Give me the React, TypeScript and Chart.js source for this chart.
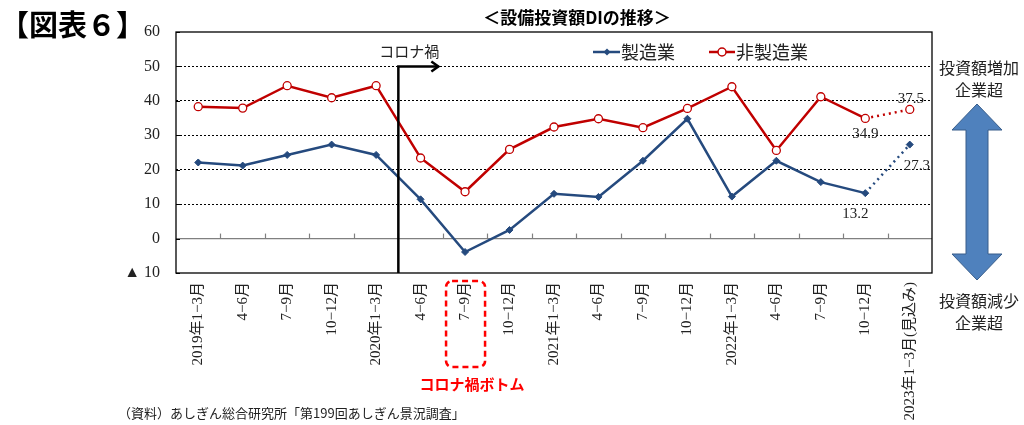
import React, { useEffect, useRef } from "react";
import { Chart, registerables } from "chart.js";

Chart.register(...registerables);

const categories = [
  "2019年1−3月", "4−6月", "7−9月", "10−12月",
  "2020年1−3月", "4−6月", "7−9月", "10−12月",
  "2021年1−3月", "4−6月", "7−9月", "10−12月",
  "2022年1−3月", "4−6月", "7−9月", "10−12月",
  "2023年1−3月(見込み)",
];
const manufacturing = [22.1, 21.2, 24.3, 27.3, 24.3, 11.4, -3.9, 2.5, 13.0, 12.1, 22.6, 34.8, 12.2, 22.6, 16.4, 13.2, 27.3];
const nonManufacturing = [38.3, 37.9, 44.4, 40.9, 44.4, 23.4, 13.6, 25.9, 32.4, 34.8, 32.2, 37.8, 44.1, 25.6, 41.2, 34.9, 37.5];
const yTicks = [-10, 0, 10, 20, 30, 40, 50, 60];
const labeledIndex = 15;
const forecastIndex = 16;

const BLUE = "#254A7E";
const RED = "#C00000";
const SERIF = "'Liberation Serif', 'Noto Sans CJK JP', serif";
const SANS = "'Noto Sans CJK JP', sans-serif";

const overlayPlugin = {
  id: "overlay",
  beforeDatasetsDraw(chart: any) {
    const { ctx, chartArea } = chart;
    const x = chart.scales.x;
    const y = chart.scales.y;
    ctx.save();
    const y0 = y.getPixelForValue(0);
    ctx.strokeStyle = "#808080";
    ctx.lineWidth = 1.2;
    ctx.beginPath();
    ctx.moveTo(chartArea.left, y0);
    ctx.lineTo(chartArea.right, y0);
    ctx.stroke();
    for (let i = 1; i < categories.length; i++) {
      const px = Math.round((x.getPixelForValue(i - 1) + x.getPixelForValue(i)) / 2) + 0.5;
      ctx.beginPath();
      ctx.moveTo(px, y0 - 5);
      ctx.lineTo(px, y0);
      ctx.stroke();
    }
    ctx.strokeStyle = "#000";
    ctx.lineWidth = 1.3;
    ctx.strokeRect(chartArea.left, chartArea.top, chartArea.right - chartArea.left, chartArea.bottom - chartArea.top);
    ctx.lineWidth = 1;
    yTicks.forEach((v) => {
      const py = Math.round(y.getPixelForValue(v)) + 0.5;
      ctx.beginPath();
      ctx.moveTo(chartArea.left, py);
      ctx.lineTo(chartArea.left + 4, py);
      ctx.stroke();
    });
    ctx.restore();
  },
  afterDraw(chart: any) {
    const { ctx, chartArea } = chart;
    const x = chart.scales.x;
    const y = chart.scales.y;
    ctx.save();
    ctx.textBaseline = "middle";

    ctx.fillStyle = "#000";
    ctx.font = `bold 29px ${SANS}`;
    ctx.textAlign = "left";
    ctx.fillText("【図表６】", 0, 25);

    ctx.font = `bold 17px ${SANS}`;
    ctx.textAlign = "center";
    ctx.fillText("＜設備投資額DIの推移＞", 577, 18);

    // Legend
    ctx.lineWidth = 2.5;
    ctx.strokeStyle = BLUE;
    ctx.beginPath();
    ctx.moveTo(593, 52);
    ctx.lineTo(620, 52);
    ctx.stroke();
    ctx.fillStyle = BLUE;
    ctx.beginPath();
    ctx.moveTo(607, 48.5);
    ctx.lineTo(610.5, 52);
    ctx.lineTo(607, 55.5);
    ctx.lineTo(603.5, 52);
    ctx.closePath();
    ctx.fill();
    ctx.strokeStyle = RED;
    ctx.beginPath();
    ctx.moveTo(709, 52);
    ctx.lineTo(735, 52);
    ctx.stroke();
    ctx.fillStyle = "#fff";
    ctx.lineWidth = 1.5;
    ctx.beginPath();
    ctx.arc(722, 52, 4, 0, Math.PI * 2);
    ctx.fill();
    ctx.stroke();
    ctx.fillStyle = "#222";
    ctx.font = `18px ${SANS}`;
    ctx.textAlign = "left";
    ctx.fillText("製造業", 621, 52);
    ctx.fillText("非製造業", 736, 52);

    // Corona arrow
    const bx = (x.getPixelForValue(4) + x.getPixelForValue(5)) / 2;
    const y50 = y.getPixelForValue(50);
    ctx.strokeStyle = "#000";
    ctx.lineWidth = 2.5;
    ctx.beginPath();
    ctx.moveTo(bx, chartArea.bottom);
    ctx.lineTo(bx, y50);
    ctx.lineTo(bx + 40, y50);
    ctx.stroke();
    ctx.beginPath();
    ctx.moveTo(bx + 33, y50 - 5);
    ctx.lineTo(bx + 40, y50);
    ctx.lineTo(bx + 33, y50 + 5);
    ctx.stroke();
    ctx.fillStyle = "#222";
    ctx.font = `15px ${SANS}`;
    ctx.textAlign = "center";
    ctx.fillText("コロナ禍", bx + 11, 51);

    // Data labels
    ctx.font = `15px ${SERIF}`;
    ctx.fillStyle = "#222";
    const px15 = x.getPixelForValue(labeledIndex);
    const px16 = x.getPixelForValue(forecastIndex);
    ctx.fillText(nonManufacturing[forecastIndex].toFixed(1), px16 + 1, y.getPixelForValue(nonManufacturing[forecastIndex]) - 10);
    ctx.fillText(nonManufacturing[labeledIndex].toFixed(1), px15, y.getPixelForValue(nonManufacturing[labeledIndex]) + 16);
    ctx.fillText(manufacturing[forecastIndex].toFixed(1), px16 + 7, y.getPixelForValue(manufacturing[forecastIndex]) + 21);
    ctx.fillText(manufacturing[labeledIndex].toFixed(1), px15 - 10, y.getPixelForValue(manufacturing[labeledIndex]) + 21);

    // Red dashed box
    const rx = x.getPixelForValue(6);
    ctx.strokeStyle = "#FF0000";
    ctx.lineWidth = 2.5;
    ctx.setLineDash([6, 4]);
    ctx.beginPath();
    (ctx as any).roundRect(rx - 19, 281, 39, 86, 6);
    ctx.stroke();
    ctx.setLineDash([]);
    ctx.fillStyle = "#FF0000";
    ctx.font = `bold 15px ${SANS}`;
    ctx.fillText("コロナ禍ボトム", rx + 7, 384);

    // Right annotations
    ctx.fillStyle = "#222";
    ctx.font = `16px ${SANS}`;
    ctx.fillText("投資額増加", 979, 68);
    ctx.fillText("企業超", 979, 90);
    ctx.fillText("投資額減少", 979, 301);
    ctx.fillText("企業超", 979, 323);

    const cx = 977;
    ctx.fillStyle = "#4F81BD";
    ctx.strokeStyle = "#385D8A";
    ctx.lineWidth = 1;
    ctx.beginPath();
    ctx.moveTo(cx, 104);
    ctx.lineTo(cx + 25, 130);
    ctx.lineTo(cx + 11, 130);
    ctx.lineTo(cx + 11, 254);
    ctx.lineTo(cx + 25, 254);
    ctx.lineTo(cx, 280);
    ctx.lineTo(cx - 25, 254);
    ctx.lineTo(cx - 11, 254);
    ctx.lineTo(cx - 11, 130);
    ctx.lineTo(cx - 25, 130);
    ctx.closePath();
    ctx.fill();
    ctx.stroke();

    ctx.fillStyle = "#222";
    ctx.font = `13px ${SANS}`;
    ctx.textAlign = "left";
    ctx.fillText("（資料）あしぎん総合研究所「第199回あしぎん景況調査」", 118, 413);

    ctx.restore();
  },
};

const dotted = (c: any) => (c.p1DataIndex === forecastIndex ? [2, 4] : undefined);

export default function App() {
  const ref = useRef<HTMLCanvasElement | null>(null);
  useEffect(() => {
    document.body.style.margin = "0";
    const chart = new Chart(ref.current as HTMLCanvasElement, {
      type: "line",
      data: {
        labels: categories,
        datasets: [
          {
            label: "製造業",
            data: manufacturing,
            borderColor: BLUE,
            backgroundColor: BLUE,
            borderWidth: 2.5,
            pointStyle: "rectRot",
            pointRadius: 3.5,
            pointBorderWidth: 1,
            tension: 0,
            segment: { borderDash: dotted },
          },
          {
            label: "非製造業",
            data: nonManufacturing,
            borderColor: RED,
            backgroundColor: "#fff",
            borderWidth: 2.5,
            pointStyle: "circle",
            pointRadius: 4,
            pointBorderWidth: 1.3,
            tension: 0,
            segment: { borderDash: dotted },
          },
        ],
      },
      options: {
        responsive: false,
        animation: false,
        layout: { padding: { left: 0, right: 92, top: 32, bottom: 0 } },
        plugins: { legend: { display: false }, tooltip: { enabled: false }, title: { display: false } },
        scales: {
          x: {
            offset: true,
            grid: { display: false, drawTicks: false, offset: true },
            border: { display: false },
            afterFit: (s: any) => { s.height = 152; },
            ticks: {
              autoSkip: false,
              maxRotation: 90,
              minRotation: 90,
              padding: 9,
              color: "#222",
              font: { family: SERIF, size: 15 },
            },
          },
          y: {
            min: -10,
            max: 60,
            afterFit: (s: any) => { s.width = 176; },
            afterBuildTicks: (s: any) => { s.ticks = yTicks.map((v) => ({ value: v })); },
            border: { display: false, dash: [2, 2] },
            grid: {
              drawTicks: false,
              color: (c: any) => (c.tick && c.tick.value > 0 && c.tick.value < 60 ? "#000" : "rgba(0,0,0,0)"),
              lineWidth: 1,
            },
            ticks: {
              padding: 16,
              color: "#222",
              font: { family: SERIF, size: 16 },
              callback: (v: any) => (Number(v) < 0 ? "▲ " + Math.abs(Number(v)) : String(v)),
            },
          },
        },
      },
      plugins: [overlayPlugin],
    } as any);
    return () => chart.destroy();
  }, []);
  return (
    <div style={{ position: "absolute", left: 0, top: 0, width: 1024, height: 425, background: "#fff" }}>
      <canvas ref={ref} width={1024} height={425} />
    </div>
  );
}
